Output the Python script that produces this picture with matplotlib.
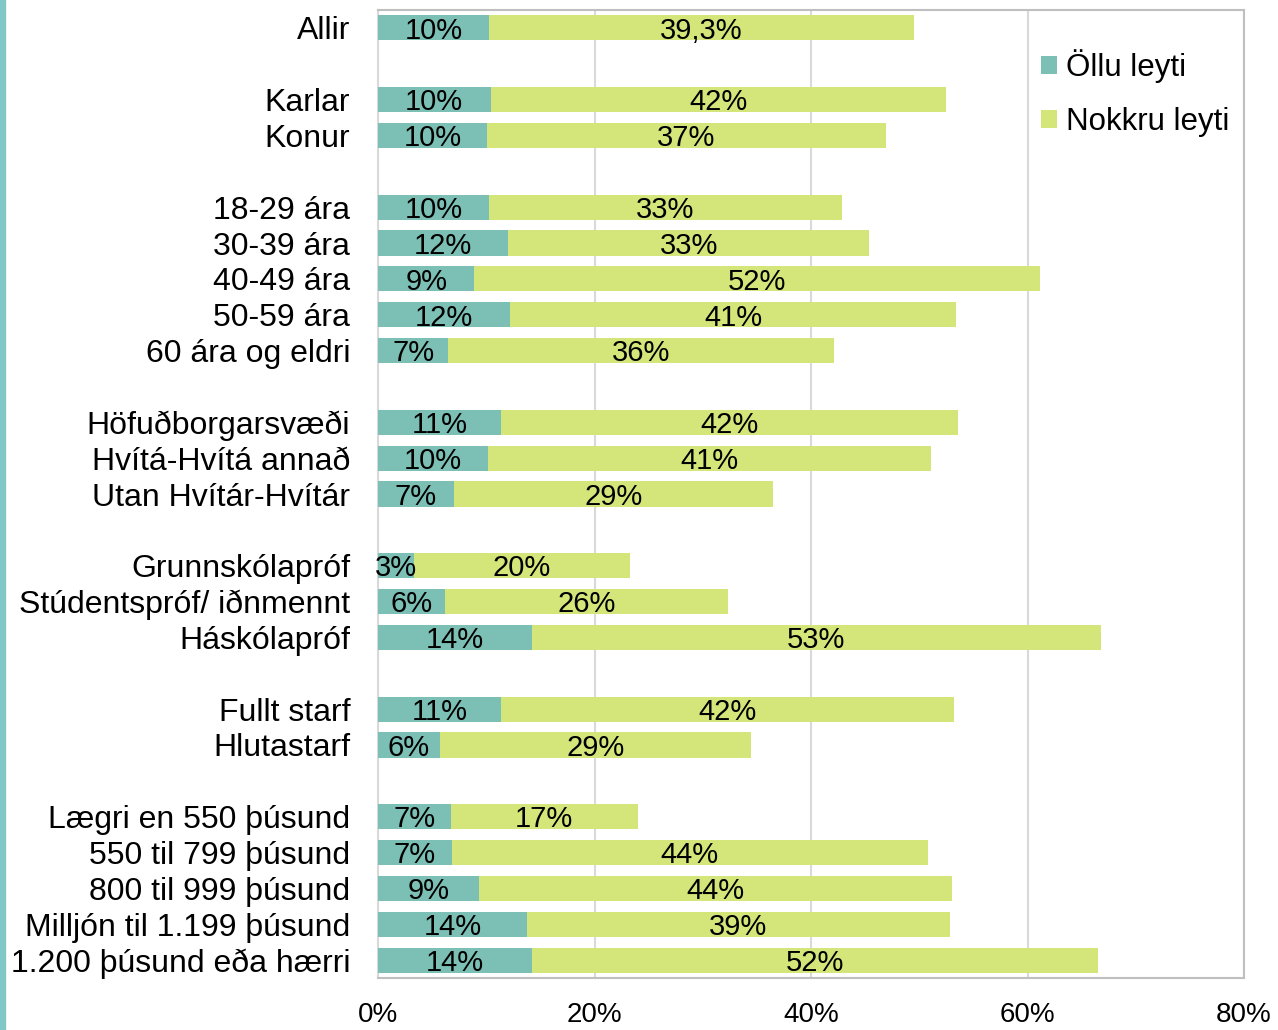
import matplotlib
matplotlib.use("Agg")
import matplotlib.pyplot as plt
from matplotlib.patches import Rectangle

plt.rcParams['font.family'] = ['Liberation Sans', 'DejaVu Sans']

# Groups of categories (blank slot between groups)
groups = [
    ["Allir"],
    ["Karlar", "Konur"],
    ["18-29 ára", "30-39 ára", "40-49 ára", "50-59 ára", "60 ára og eldri"],
    ["Höfuðborgarsvæði", "Hvítá-Hvítá annað", "Utan Hvítár-Hvítár"],
    ["Grunnskólapróf", "Stúdentspróf/ iðnmennt", "Háskólapróf"],
    ["Fullt starf", "Hlutastarf"],
    ["Lægri en 550 þúsund", "550 til 799 þúsund", "800 til 999 þúsund",
     "Milljón til 1.199 þúsund", "1.200 þúsund eða hærri"],
]

ollu = [10.25, 10.4, 10.1, 10.25, 12.0, 8.9, 12.2, 6.5, 11.4, 10.2, 7.0,
        3.3, 6.2, 14.2, 11.4, 5.7, 6.7, 6.8, 9.3, 13.8, 14.2]
nokkru = [39.3, 42.1, 36.8, 32.6, 33.4, 52.3, 41.2, 35.6, 42.2, 40.9, 29.5,
          20.0, 26.1, 52.6, 41.8, 28.8, 17.3, 44.0, 43.7, 39.0, 52.3]
ollu_labels = ["10%", "10%", "10%", "10%", "12%", "9%", "12%", "7%", "11%", "10%", "7%",
               "3%", "6%", "14%", "11%", "6%", "7%", "7%", "9%", "14%", "14%"]
nokkru_labels = ["39,3%", "42%", "37%", "33%", "33%", "52%", "41%", "36%", "42%", "41%", "29%",
                 "20%", "26%", "53%", "42%", "29%", "17%", "44%", "44%", "39%", "52%"]
series_names = ["Öllu leyti", "Nokkru leyti"]
xticks = [0, 20, 40, 60, 80]
xtick_labels = ["0%", "20%", "40%", "60%", "80%"]

# positions
cats, ypos = [], []
slot = 0
for gi, g in enumerate(groups):
    for c in g:
        cats.append(c)
        ypos.append(slot)
        slot += 1
    slot += 1
nslots = slot - 1

teal = "#7BBFB5"
green = "#D4E67A"

fig = plt.figure(figsize=(12.78, 10.30), dpi=100)
ax = fig.add_axes([378/1278, 1-978/1030, 866/1278, 968/1030])

h = 0.7
b1 = ax.barh(ypos, ollu, height=h, color=teal, label=series_names[0], zorder=3)
b2 = ax.barh(ypos, nokkru, left=ollu, height=h, color=green, label=series_names[1], zorder=3)
for bars, labs in ((b1, ollu_labels), (b2, nokkru_labels)):
    for r, lab in zip(bars, labs):
        ax.annotate(lab, (r.get_x() + r.get_width()/2, r.get_y() + r.get_height()/2),
                    xytext=(0, -2), textcoords='offset points',
                    ha='center', va='center', fontsize=21, color='black', zorder=5)

ax.set_ylim(nslots - 0.5, -0.5)
ax.set_xlim(0, 80)
ax.set_yticks(ypos)
ax.set_yticklabels(cats, fontsize=23)
ax.set_xticks(xticks)
ax.set_xticklabels(xtick_labels, fontsize=20)
ax.tick_params(axis='both', length=0)
ax.tick_params(axis='y', pad=20)
ax.tick_params(axis='x', pad=17)
ax.grid(axis='x', color='#D9D9D9', linewidth=1.5, zorder=0)
for s in ax.spines.values():
    s.set_color('#BFBFBF')
    s.set_linewidth(1.5)
ax.spines['left'].set_color('#D9D9D9')

leg = ax.legend(loc='upper left', bbox_to_anchor=(0.751, 0.972), frameon=False,
                fontsize=22.5, handlelength=0.52, handleheight=0.52, handletextpad=0.28,
                labelspacing=0.75, borderaxespad=0)

fig.patches.append(Rectangle((0, 0), 5/1278, 1, transform=fig.transFigure,
                             color='#80C8C8', zorder=10))

fig.savefig("out.png", dpi=100)
